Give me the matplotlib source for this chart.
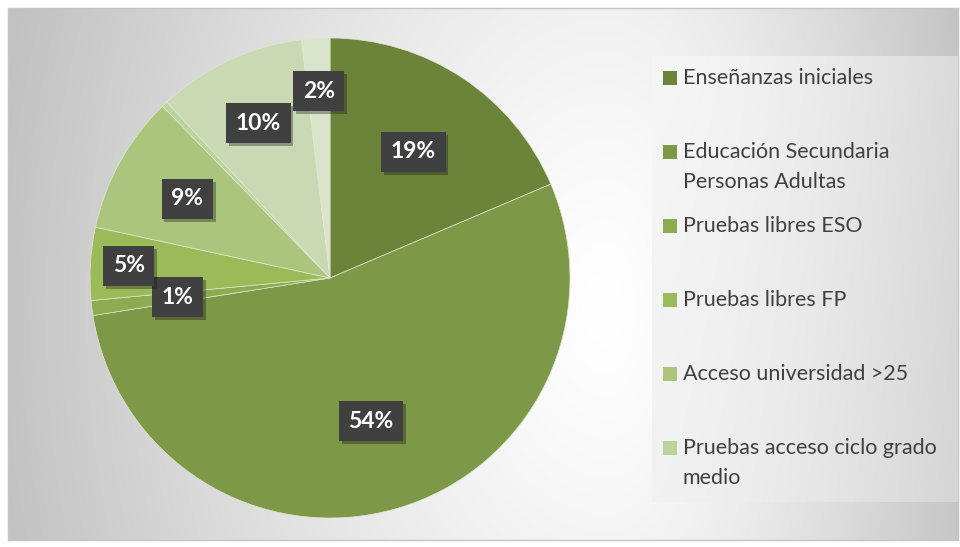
import numpy as np
import matplotlib
import matplotlib.pyplot as plt
from matplotlib.patches import Rectangle
import matplotlib.patheffects as pe

# Use Agg backend for non-interactive environments
matplotlib.use('Agg')

# Data (percent of total); slices go clockwise from 12 o'clock
categories = [
    'Enseñanzas iniciales',
    'Educación Secundaria\nPersonas Adultas',
    'Pruebas libres ESO',
    'Pruebas libres FP',
    'Acceso universidad >25',
    'Pruebas acceso ciclo grado\nmedio',
    'Pruebas acceso ciclo grado\nsuperior',
    'Otros',
]
values = [18.6, 53.9, 1.0, 4.9, 9.3, 0.4, 10.0, 1.9]
colors = ['#6b843a', '#7d9846', '#8dab51', '#9bbb59', '#abc67c',
          '#bdd39c', '#cad9b3', '#dae4cb']
# only the first six entries fit in the legend box of the original
shown_in_legend = 6

W, H = 960, 547
fig = plt.figure(figsize=(W / 100, H / 100), dpi=100)
fig.patch.set_facecolor('white')

# Background: grey gradient, white band around x~600, inside a thin frame
bw, bh = 950, 532
bg = fig.add_axes([8 / W, 7 / H, bw / W, bh / H])
yy, xx = np.mgrid[0:bh, 0:bw]
cx = 600
sx = np.where(xx < cx, 620.0, 380.0)
d = np.sqrt(((xx - cx) / sx) ** 2 + ((yy - 300) / 900.0) ** 2)
g = np.clip(1.0 - 0.24 * d ** 1.3, 0.76, 1.0)
bg.imshow(np.dstack([g, g, g]), aspect='auto', interpolation='bilinear')
bg.set_xticks([])
bg.set_yticks([])
for s in bg.spines.values():
    s.set_color('#c4c4c4')
    s.set_linewidth(1.0)

# Legend box with its own, flatter gradient
lx0, ly0, lw, lh = 652, 56, 306, 446
lg = fig.add_axes([lx0 / W, 1 - (ly0 + lh) / H, lw / W, lh / H])
ly, lxx = np.mgrid[0:lh, 0:lw]
gl = 0.965 - 0.11 * (lxx / lw) ** 1.5 - 0.02 * (ly / lh)
lg.imshow(np.dstack([gl, gl, gl]), aspect='auto', interpolation='bilinear',
          vmin=0, vmax=1)
lg.axis('off')

# Pie
ax = fig.add_axes([90 / W, (H - 278 - 240) / H, 480 / W, 480 / H])
wedges, _ = ax.pie(values, colors=colors, startangle=90, counterclock=False,
                   radius=1.0,
                   wedgeprops=dict(edgecolor='#dfe7d2', linewidth=0.5))
ax.set_xlim(-1, 1)
ax.set_ylim(-1, 1)
ax.set_aspect('equal')
ax.axis('off')

# Data labels (dark boxes), radius picked per slice like Excel's best fit
label_r = [0.63, 0.62, 0.64, 0.84, 0.68, 0.0, 0.71, 0.78]
cum = 0.0
for v, r in zip(values, label_r):
    mid = 90 - 360 * (cum + v / 2) / 100.0
    cum += v
    if round(v) < 1:
        continue
    x = r * np.cos(np.radians(mid))
    y = r * np.sin(np.radians(mid))
    t = ax.text(x, y, f'{round(v)}%', ha='center', va='center',
                fontsize=16.5, fontweight='bold', color='white',
                family=['Lato', 'DejaVu Sans'],
                bbox=dict(boxstyle='square,pad=0.42', facecolor='#404040',
                          edgecolor='none'))
    t.get_bbox_patch().set_path_effects(
        [pe.SimplePatchShadow(offset=(2, -2), alpha=0.35), pe.Normal()])

# Legend drawn by hand so that wrapped entries line up as in the original
x_sq = 663
x_txt = 683
y0 = 78
step = 74
line_h = 30
for i in range(shown_in_legend):
    yc = y0 + step * i
    fig.patches.append(Rectangle((x_sq / W, 1 - (yc + 7) / H), 14 / W, 14 / H,
                                 transform=fig.transFigure,
                                 facecolor=colors[i], edgecolor='none',
                                 zorder=3))
    for k, line in enumerate(categories[i].split('\n')):
        fig.text(x_txt / W, 1 - (yc + line_h * k) / H, line,
                 ha='left', va='center', fontsize=15.5, color='#404040',
                 family=['Lato', 'DejaVu Sans'], zorder=3)

fig.savefig('out.png', dpi=100)
